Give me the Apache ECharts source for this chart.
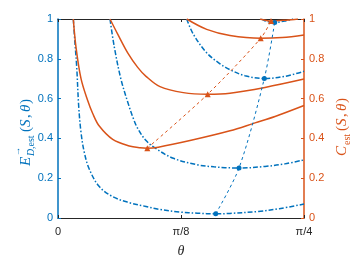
<!DOCTYPE html>
<html><head><meta charset="utf-8">
<script src="https://cdn.jsdelivr.net/npm/echarts@6/dist/echarts.min.js"></script>
<style>html,body{margin:0;padding:0;background:#fff}#c{width:350px;height:263px}</style>
</head><body><div id="c"></div><script>
const BLUE = '#0072BD', ORANGE = '#D95319', DARK = '#262626';
// theta in degrees (0..45 = 0..pi/4)
const xTickLabels = { 0: '0', 22.5: 'π/8', 45: 'π/4' };

// E (blue, left axis) curves
const E1 = [[2.80,1.0],[3.10,0.88],[3.42,0.76],[3.79,0.56],[4.21,0.43],[4.81,0.33],[5.73,0.245],[7.55,0.158],[10.01,0.107],[13.04,0.077],[16.10,0.058],[18.66,0.043],[22.32,0.030],[25.5,0.024],[28.85,0.021],[31.46,0.023],[36.64,0.033],[40.5,0.047],[45,0.070]];
const E2 = [[9.51,1.0],[10.30,0.859],[11.52,0.697],[12.75,0.583],[13.78,0.500],[14.58,0.450],[16.10,0.389],[18.06,0.346],[21.09,0.300],[25.37,0.268],[28.5,0.257],[30.55,0.253],[33.11,0.251],[37.87,0.259],[41.5,0.272],[45,0.292]];
const E3 = [[23.54,1.0],[24.75,0.924],[27.20,0.830],[29.63,0.775],[31.46,0.745],[34.21,0.715],[37.74,0.701],[41.52,0.712],[45,0.737]];
const E4 = [[37.19,1.0],[37.9,0.99],[39.64,0.983],[41.5,0.99],[42.99,1.0]];

// C (orange, right axis) curves
const C1 = [[2.80,1.0],[3.29,0.859],[4.21,0.700],[5.43,0.590],[6.35,0.525],[7.55,0.462],[10.01,0.395],[13.04,0.362],[15.0,0.353],[16.34,0.351],[18.35,0.356],[24.15,0.389],[31.46,0.438],[36.04,0.478],[39.70,0.51],[45,0.565]];
const C2 = [[9.51,1.0],[10.92,0.924],[12.75,0.830],[14.58,0.757],[16.10,0.712],[18.66,0.660],[22.92,0.630],[27.38,0.622],[31.46,0.627],[37.87,0.656],[45,0.698]];
const C3 = [[23.54,1.0],[27.20,0.948],[31.46,0.917],[37.08,0.903],[41.0,0.907],[45,0.920]];
const C4 = [[36.95,1.0],[37.9,0.994],[38.96,0.990],[41.7,0.994],[43.9,1.0]];

// minima loci
const Emin = [[28.85,0.021],[33.11,0.251],[37.74,0.701],[39.64,0.983]];
const Cmin = [[16.34,0.351],[27.38,0.622],[37.08,0.903],[38.96,0.990]];

const chart = echarts.init(document.getElementById('c'), null, { renderer: 'canvas' });
const dashDot = [5, 2, 1.5, 2];
function curve(data, color, yi, dash) {
  return { type: 'line', data: data, yAxisIndex: yi, showSymbol: false, smooth: 0.35,
    lineStyle: { color: color, width: 1.5, type: dash }, silent: true, z: 3 };
}
function locus(data, color, yi, sym, size) {
  return { type: 'line', data: data, yAxisIndex: yi, showSymbol: true, symbol: sym, symbolSize: size,
    smooth: 0.3, itemStyle: { color: color }, lineStyle: { color: color, width: 1, type: [3, 3] }, silent: true, z: 4 };
}
const yFmt = v => String(Math.round(v * 10) / 10);
const sans = 'Liberation Sans, Arial, sans-serif';
const serif = 'Liberation Serif, DejaVu Serif, serif';
chart.setOption({
  animation: false,
  grid: { left: 58, right: 46, top: 19, bottom: 38 },
  xAxis: [{
    type: 'value', min: 0, max: 45, interval: 22.5, position: 'bottom',
    axisLine: { onZero: false, lineStyle: { color: DARK, width: 1 } },
    axisTick: { inside: true, length: 3, lineStyle: { color: DARK } },
    axisLabel: { formatter: v => xTickLabels[v] || '', color: DARK, fontSize: 11, fontFamily: sans, margin: 8 },
    splitLine: { show: false },
    name: 'θ', nameLocation: 'middle', nameGap: 26,
    nameTextStyle: { fontFamily: serif, fontStyle: 'italic', fontSize: 14, color: DARK }
  }, {
    type: 'value', min: 0, max: 45, interval: 22.5, position: 'top',
    axisLine: { onZero: false, lineStyle: { color: DARK, width: 1 } },
    axisTick: { inside: true, length: 3, lineStyle: { color: DARK } },
    axisLabel: { show: false }, splitLine: { show: false }
  }],
  yAxis: [{
    type: 'value', min: 0, max: 1, interval: 0.2, position: 'left',
    axisLine: { show: true, onZero: false, lineStyle: { color: BLUE, width: 1.5 } },
    axisTick: { show: true, inside: true, length: 3, lineStyle: { color: BLUE } },
    axisLabel: { formatter: yFmt, color: BLUE, fontSize: 11, fontFamily: sans, margin: 5 },
    splitLine: { show: false }
  }, {
    type: 'value', min: 0, max: 1, interval: 0.2, position: 'right',
    axisLine: { show: true, onZero: false, lineStyle: { color: ORANGE, width: 1.5 } },
    axisTick: { show: true, inside: true, length: 3, lineStyle: { color: ORANGE } },
    axisLabel: { formatter: yFmt, color: ORANGE, fontSize: 11, fontFamily: sans, margin: 5 },
    splitLine: { show: false }
  }],
  graphic: [{
    type: 'group', x: 26, y: 118, rotation: Math.PI / 2,
    children: [
      { type: 'text', x: -48, y: 0, style: { text: 'E', font: 'italic 15px ' + serif, fill: BLUE, verticalAlign: 'middle' } },
      { type: 'text', x: -38, y: -8, style: { text: '→', font: '9px ' + serif, fill: BLUE, verticalAlign: 'middle' } },
      { type: 'text', x: -38, y: 5, style: { text: 'D', font: 'italic 10px ' + serif, fill: BLUE, verticalAlign: 'middle' } },
      { type: 'text', x: -31, y: 5, style: { text: ',est', font: '10px ' + serif, fill: BLUE, verticalAlign: 'middle' } },
      { type: 'text', x: -14, y: 0, style: { text: '(', font: '15px ' + serif, fill: BLUE, verticalAlign: 'middle' } },
      { type: 'text', x: -9, y: 0, style: { text: 'S', font: 'italic 15px ' + serif, fill: BLUE, verticalAlign: 'middle' } },
      { type: 'text', x: 0, y: 0, style: { text: ',', font: '15px ' + serif, fill: BLUE, verticalAlign: 'middle' } },
      { type: 'text', x: 6, y: 0, style: { text: 'θ', font: 'italic 15px ' + serif, fill: BLUE, verticalAlign: 'middle' } },
      { type: 'text', x: 14, y: 0, style: { text: ')', font: '15px ' + serif, fill: BLUE, verticalAlign: 'middle' } }
    ]
  }, {
    type: 'group', x: 342, y: 118, rotation: Math.PI / 2,
    children: [
      { type: 'text', x: -38, y: 0, style: { text: 'C', font: 'italic 15px ' + serif, fill: ORANGE, verticalAlign: 'middle' } },
      { type: 'text', x: -27, y: 5, style: { text: 'est', font: '10px ' + serif, fill: ORANGE, verticalAlign: 'middle' } },
      { type: 'text', x: -13, y: 0, style: { text: '(', font: '15px ' + serif, fill: ORANGE, verticalAlign: 'middle' } },
      { type: 'text', x: -8, y: 0, style: { text: 'S', font: 'italic 15px ' + serif, fill: ORANGE, verticalAlign: 'middle' } },
      { type: 'text', x: 1, y: 0, style: { text: ',', font: '15px ' + serif, fill: ORANGE, verticalAlign: 'middle' } },
      { type: 'text', x: 7, y: 0, style: { text: 'θ', font: 'italic 15px ' + serif, fill: ORANGE, verticalAlign: 'middle' } },
      { type: 'text', x: 15, y: 0, style: { text: ')', font: '15px ' + serif, fill: ORANGE, verticalAlign: 'middle' } }
    ]
  }],
  series: [
    curve(E1, BLUE, 0, dashDot), curve(E2, BLUE, 0, dashDot), curve(E3, BLUE, 0, dashDot), curve(E4, BLUE, 0, dashDot),
    curve(C1, ORANGE, 1, 'solid'), curve(C2, ORANGE, 1, 'solid'), curve(C3, ORANGE, 1, 'solid'), curve(C4, ORANGE, 1, 'solid'),
    locus(Emin, BLUE, 0, 'circle', 5), locus(Cmin, ORANGE, 1, 'triangle', 6)
  ]
});
</script></body></html>
